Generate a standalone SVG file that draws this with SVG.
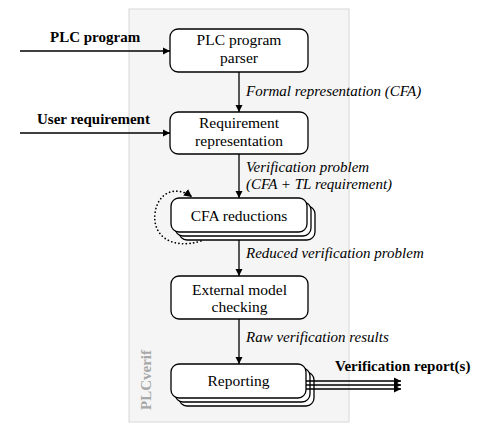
<svg xmlns="http://www.w3.org/2000/svg" width="492" height="431" viewBox="0 0 492 431">
<defs>
<style>
text{font-family:"Liberation Serif","Times New Roman",Tinos,"DejaVu Serif",serif}
.node{fill:#fff;stroke:#000;stroke-width:1.3}
.t{font-size:15.5px;text-anchor:middle;fill:#000}
.lbl{font-size:15px;font-style:italic;fill:#000}
.in{font-size:15px;font-weight:bold;fill:#000}
.edge{stroke:#000;stroke-width:1.3;fill:none}
</style>
<marker id="ah" viewBox="0 0 10 10" refX="10" refY="5" markerWidth="7.5" markerHeight="7.5" markerUnits="userSpaceOnUse" orient="auto">
<path d="M0,0 L10,5 L0,10 Z" fill="#000"/>
</marker>
<marker id="ahd" viewBox="0 0 10 10" refX="10" refY="5" markerWidth="8" markerHeight="8" markerUnits="userSpaceOnUse" orient="auto">
<path d="M0,0 L10,5 L0,10 Z" fill="#000"/>
</marker>
</defs>
<rect x="129" y="9" width="220" height="413" fill="#f5f5f5" stroke="#d8d8d8" stroke-width="1"/>
<text transform="rotate(-90 151 380)" x="151" y="380" text-anchor="middle" font-size="15" font-weight="bold" fill="#a8a8a8">PLCverif</text>

<g id="connectors">
<line class="edge" x1="20" y1="51" x2="170" y2="51" marker-end="url(#ah)"/>
<line class="edge" x1="20" y1="133" x2="170" y2="133" marker-end="url(#ah)"/>
<line class="edge" x1="239" y1="72" x2="239" y2="112" marker-end="url(#ah)"/>
<line class="edge" x1="239" y1="154" x2="239" y2="198" marker-end="url(#ah)"/>
<line class="edge" x1="239" y1="232" x2="239" y2="276" marker-end="url(#ah)"/>
<line class="edge" x1="239" y1="319" x2="239" y2="364" marker-end="url(#ah)"/>
<path d="M201,241 C172,250 152,236 155,213 C158,192 176,185 192,197" fill="none" stroke="#000" stroke-width="1.7" stroke-dasharray="0.1 3.6" stroke-linecap="round" marker-end="url(#ahd)"/>
<text class="lbl" x="246" y="96">Formal representation (CFA)</text>
<text class="lbl" x="246" y="172">Verification problem</text>
<text class="lbl" x="246" y="189">(CFA + TL requirement)</text>
<text class="lbl" x="246" y="258">Reduced verification problem</text>
<text class="lbl" x="246" y="342">Raw verification results</text>
<text class="in" x="50" y="42">PLC program</text>
<text class="in" x="37" y="124">User requirement</text>
<text class="in" x="335" y="371">Verification report(s)</text>
</g>

<g id="parser">
<rect class="node" x="170" y="29" width="138" height="43" rx="8"/>
<text class="t" x="239" y="45">PLC program</text>
<text class="t" x="239" y="63">parser</text>
</g>
<g id="requirement">
<rect class="node" x="170" y="112" width="138" height="42" rx="8"/>
<text class="t" x="239" y="128">Requirement</text>
<text class="t" x="239" y="146">representation</text>
</g>
<g id="reductions">
<rect class="node" x="179" y="206" width="136" height="34" rx="8"/>
<rect class="node" x="175" y="202" width="136" height="34" rx="8"/>
<rect class="node" x="171" y="198" width="136" height="34" rx="8"/>
<text class="t" x="239" y="220.5">CFA reductions</text>
</g>
<g id="modelchecking">
<rect class="node" x="171" y="276" width="137" height="43" rx="8"/>
<text class="t" x="239.5" y="295">External model</text>
<text class="t" x="239.5" y="312">checking</text>
</g>
<g id="reporting">
<rect class="node" x="179" y="372" width="135" height="34" rx="8"/>
<rect class="node" x="175" y="368" width="135" height="34" rx="8"/>
<rect class="node" x="171" y="364" width="135" height="34" rx="8"/>
<text class="t" x="238.5" y="386">Reporting</text>
</g>
<g id="outputs">
<line class="edge" x1="306" y1="381" x2="401" y2="381" marker-end="url(#ah)"/>
<line class="edge" x1="306" y1="385" x2="401" y2="385" marker-end="url(#ah)"/>
<line class="edge" x1="306" y1="389" x2="401" y2="389" marker-end="url(#ah)"/>
</g>
</svg>
